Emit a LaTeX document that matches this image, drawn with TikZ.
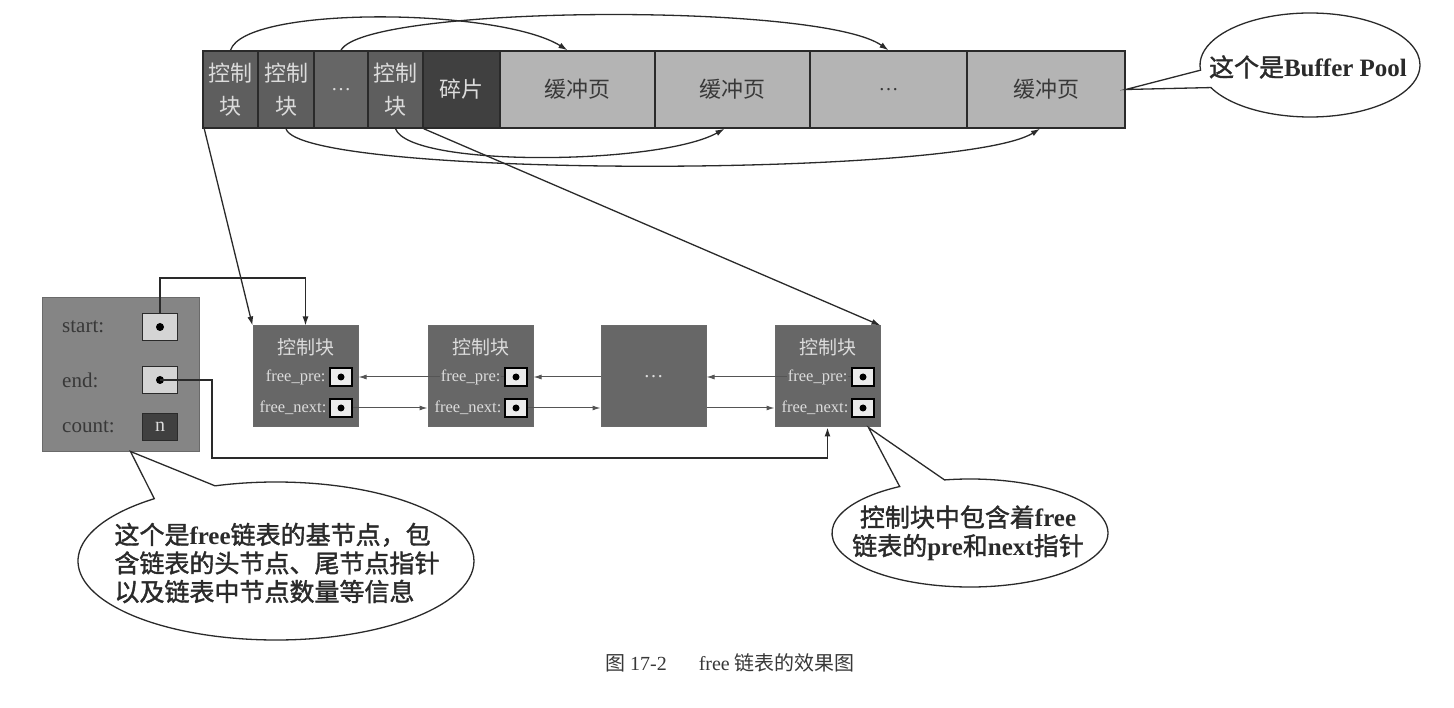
\documentclass[tikz,border=0pt]{standalone}
\usepackage{fontspec}
\setmainfont{Liberation Serif}
\newfontfamily\cjk{Noto Sans CJK SC}
\newfontfamily\cjkb[FakeBold=1.5]{Noto Sans CJK SC}
\newcommand{\zh}[1]{{\normalfont\cjk #1}}
\newcommand{\zhb}[1]{{\normalfont\cjkb #1}}
\usepackage{tikz}
\usetikzlibrary{arrows.meta,shapes.callouts,positioning}
\definecolor{ink}{HTML}{2A2A2A}
\definecolor{ctrlgray}{HTML}{5E5E5E}
\definecolor{dotgray}{HTML}{666666}
\definecolor{fraggray}{HTML}{404040}
\definecolor{pagegray}{HTML}{B4B4B4}
\definecolor{nodegray}{HTML}{676767}
\definecolor{basegray}{HTML}{858585}
\definecolor{boxgray}{HTML}{D4D4D4}
\definecolor{paletext}{HTML}{DCDCDC}
\definecolor{darktext}{HTML}{383838}
\tikzstyle{link}=[draw=ink, line width=1.3pt, -{Latex[length=9pt,width=6pt]}]
\tikzstyle{plink}=[draw=ink!80, line width=1pt, -{Latex[length=8pt,width=5pt]}]
\tikzstyle{cell}=[draw=ink, line width=1.5pt, minimum height=77pt, inner sep=0pt, align=center]
\tikzstyle{cellctrl}=[cell, fill=ctrlgray, text=paletext, font=\cjk\fontsize{22}{33}\selectfont]
\tikzstyle{celldots}=[cell, fill=dotgray, text=paletext, font=\fontsize{20}{24}\selectfont]
\tikzstyle{cellfrag}=[cell, fill=fraggray, text=paletext, font=\cjk\fontsize{22}{26}\selectfont]
\tikzstyle{cellpage}=[cell, fill=pagegray, text=darktext, font=\cjk\fontsize{22}{26}\selectfont]
\tikzstyle{cellpdots}=[cell, fill=pagegray, text=darktext, font=\fontsize{20}{24}\selectfont]
\tikzstyle{lnode}=[draw=ink!70, line width=1pt, fill=nodegray, minimum width=105pt, minimum height=101pt, inner sep=0pt, text=paletext, font=\fontsize{20}{24}\selectfont]
\tikzstyle{ltitle}=[text=paletext, inner sep=0pt, font=\cjk\fontsize{19}{22}\selectfont]
\tikzstyle{llabel}=[text=paletext, fill=nodegray, inner sep=0.5pt, font=\fontsize{16.5}{18}\selectfont]
\tikzstyle{ptr}=[draw=black, line width=1.8pt, fill=white!92!black, minimum width=22pt, minimum height=18pt, inner sep=0pt]
\tikzstyle{bnode}=[draw=ink!70, line width=1pt, fill=basegray, minimum width=157pt, minimum height=153pt]
\tikzstyle{blabel}=[anchor=west, text=darktext, inner sep=0pt, font=\fontsize{21}{24}\selectfont]
\tikzstyle{bbox}=[draw=ink, line width=1.8pt, fill=boxgray, minimum width=35pt, minimum height=27pt, inner sep=0pt]
\tikzstyle{cbox}=[bbox, fill=fraggray, text=paletext, font=\fontsize{20}{24}\selectfont]
\tikzstyle{bubble}=[ellipse callout, draw=ink, line width=1.3pt, fill=white, callout pointer arc=20]
\tikzstyle{btext}=[text=ink, inner sep=0pt, align=center, font=\bfseries\fontsize{25}{28.5}\selectfont]
\tikzstyle{captext}=[text=darktext, font=\fontsize{20}{24}\selectfont]

\begin{document}
\begin{tikzpicture}[x=1pt,y=-1pt]
\fill[white] (0,0) rectangle (1454,708);
\useasboundingbox (0,0) rectangle (1454,708);
\foreach \n/\xl/\xr/\s/\txt in {c1/203/258/cellctrl/{控制\\块}, c2/258/314/cellctrl/{控制\\块}, c3/314/368/celldots/{\ldots}, c4/368/423/cellctrl/{控制\\块}, c5/423/500/cellfrag/{碎片}, c6/500/655/cellpage/{缓冲页}, c7/655/810/cellpage/{缓冲页}, c8/810/967/cellpdots/{\ldots}, c9/967/1125/cellpage/{缓冲页}} {
	\node[\s, minimum width={(\xr-\xl)*1pt}] (\n) at ({(\xl+\xr)/2},89.5) {\txt};
}
\draw[link] (c1.north) .. controls (245,5) and (500,8) .. ([xshift=-10pt]c6.north);
\draw[link] (c3.north) .. controls (365,5) and (820,2) .. (c8.north);
\draw[link] (c2.south) .. controls (300,178) and (960,178) .. ([xshift=-6pt]c9.south);
\draw[link] (c4.south) .. controls (410,168) and (660,165) .. ([xshift=-8pt]c7.south);

\foreach \i/\cx in {1/305.5,2/480.5,4/827.5} {
	\node[lnode] (n\i) at (\cx,376.5) {};
	\node[ltitle] (t\i) at (\cx,347) {控制块};
	\node[ptr] (p\i) at (\cx+35.5,377) {};
	\node[ptr] (q\i) at (\cx+35.5,408) {};
	\fill (p\i) circle (3.5);
	\fill (q\i) circle (3.5);
}
\node[lnode] (n3) at (653.5,376.5) {\ldots};
\draw[plink] (p2.west) -- (n1.east |- p2.west);
\draw[plink] (n3.west |- p2.west) -- (n2.east |- p2.west);
\draw[plink] (p4.west) -- (n3.east |- p4.west);
\draw[plink] (q1.east) -- (n2.west |- q1.east);
\draw[plink] (q2.east) -- (n3.west |- q2.east);
\draw[plink] (n3.east |- q4.west) -- (n4.west |- q4.west);
\foreach \i in {1,2,4} {
	\node[llabel, left=3pt of p\i] (lp\i) {free\_pre:};
	\node[llabel, left=2pt of q\i] (lq\i) {free\_next:};
}

\draw[link] ([xshift=2pt]c1.south west) -- (n1.north west);
\draw[link] (c4.south east) -- (n4.north east);

\node[bnode] (base) at (120.5,374.5) {};
\foreach \n/\y/\txt in {start/327/start:, end/380/end:, count/427/count:} {
	\node[blabel] (l\n) at (62,\y) {\txt};
}
\node[bbox] (sb) at (160,327) {};
\node[bbox] (eb) at (160,380) {};
\node[cbox] (cb) at (160,427) {n};
\fill (sb) circle (4);
\fill (eb) circle (4);
\coordinate (k1) at (305.5,278);
\coordinate (k2) at (212,458);
\draw[link] (sb.north) |- (k1) -- (n1.north);
\draw[link] (eb.center) -| (k2) -| (n4.south);

\node[bubble, minimum width=220pt, minimum height=104pt, callout absolute pointer={(c9.east)}] (bp) at (1310,65) {};
\node[btext] (bpt) at (1308,67) {\zhb{这个是}Buffer Pool};
\node[bubble, minimum width=396pt, minimum height=158pt, callout absolute pointer={([xshift=10pt]base.south)}] (bb) at (276,561) {};
\node[btext, align=left] (bbt) at (277,563) {\zhb{这个是}free\zhb{链表的基节点，包}\\\zhb{含链表的头节点、尾节点指针}\\\zhb{以及链表中节点数量等信息}};
\node[bubble, minimum width=276pt, minimum height=108pt, callout absolute pointer={([xshift=-12pt]n4.south east)}] (bn) at (970,533) {};
\node[btext] (bnt) at (968,533) {\zhb{控制块中包含着}free\\\zhb{链表的}pre\zhb{和}next\zhb{指针}};

\node[captext] (cap) at (730,663) {\zh{图} 17-2\hspace{1.6em}free \zh{链表的效果图}};
\end{tikzpicture}
\end{document}
